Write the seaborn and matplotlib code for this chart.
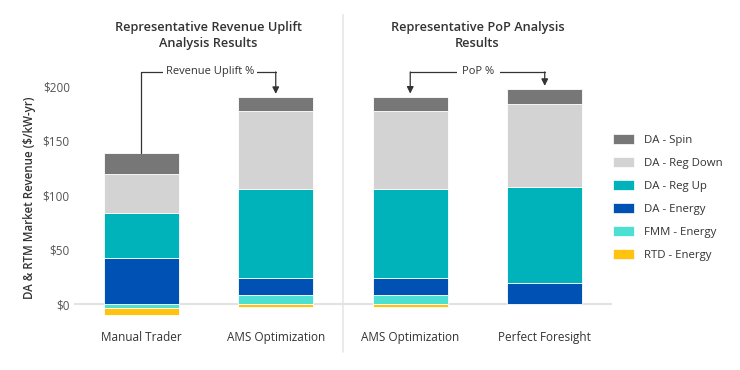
import numpy as np
import pandas as pd
import matplotlib
matplotlib.use("Agg")
import matplotlib.pyplot as plt
import matplotlib.patches as mpatches
import seaborn as sns

# ---- data ----
categories = ["Manual Trader", "AMS Optimization", "AMS Optimization", "Perfect Foresight"]
series_names = ["RTD - Energy", "FMM - Energy", "DA - Energy", "DA - Reg Up", "DA - Reg Down", "DA - Spin"]
rtd_energy = [-6.6, -2.5, -2.5, 0.0]
fmm_energy = [-3.4, 8.6, 8.6, 0.0]
da_energy = [42.3, 15.6, 15.6, 19.0]
da_reg_up = [41.2, 81.3, 81.3, 89.0]
da_reg_down = [36.5, 72.4, 72.4, 75.8]
da_spin = [19.3, 12.9, 12.9, 14.1]
yticks = [0, 50, 100, 150, 200]
ytick_labels = ["$0", "$50", "$100", "$150", "$200"]
titles = ["Representative Revenue Uplift\nAnalysis Results", "Representative PoP Analysis\nResults"]

colors = {
    "DA - Spin": "#777777",
    "DA - Reg Down": "#d3d3d3",
    "DA - Reg Up": "#00b2b9",
    "DA - Energy": "#0051b4",
    "FMM - Energy": "#4ce0d2",
    "RTD - Energy": "#ffc20e",
}

sns.set_theme(style="white")
plt.rcParams["font.family"] = ["Open Sans", "DejaVu Sans"]

fig = plt.figure(figsize=(7.4, 3.7), dpi=100)
ax = fig.add_axes([0.1, 0.1343, 0.727, 0.661])

idx = list(range(len(categories)))
values = {
    "RTD - Energy": rtd_energy,
    "FMM - Energy": fmm_energy,
    "DA - Energy": da_energy,
    "DA - Reg Up": da_reg_up,
    "DA - Reg Down": da_reg_down,
    "DA - Spin": da_spin,
}
# stacking: positives up from 0, negatives down from 0
pos_base = np.zeros(len(categories))
neg_base = np.zeros(len(categories))
order_stack = ["FMM - Energy", "RTD - Energy", "DA - Energy", "DA - Reg Up", "DA - Reg Down", "DA - Spin"]
for name in order_stack:
    v = np.array(values[name], dtype=float)
    bottoms = np.where(v >= 0, pos_base, neg_base)
    df = pd.DataFrame({"x": idx, "y": v})
    sns.barplot(data=df, x="x", y="y", bottom=bottoms, color=colors[name],
                width=0.56, ax=ax, edgecolor="white", linewidth=0.6,
                saturation=1, errorbar=None)
    pos_base = pos_base + np.where(v >= 0, v, 0)
    neg_base = neg_base + np.where(v < 0, v, 0)

totals = pos_base

ax.set_xlim(-0.5, 3.5)
ax.set_ylim(-15, 210)
for s in ax.spines.values():
    s.set_visible(False)
ax.axhline(0, color="#e2e2e2", lw=1.5, zorder=0.5)
ax.set_yticks(yticks)
ax.set_yticklabels(ytick_labels, fontsize=8.5, color="#555555")
ax.set_xticks(idx)
ax.set_xticklabels(categories, fontsize=8.5, color="#333333")
ax.tick_params(axis="y", length=0, pad=3)
ax.tick_params(axis="x", length=0, pad=8)
ax.set_xlabel("")
ax.set_ylabel("DA & RTM Market Revenue ($/kW-yr)", fontsize=8.3, color="#333333",
              fontweight="semibold", labelpad=5)
ax.grid(False)

# separator between the two panels
ax.plot([1.5, 1.5], [-44, 266], color="#e6e6e6", lw=1.2, clip_on=False, zorder=0)

# titles
for i, t in enumerate(titles):
    xc = 0.5 + 2 * i
    ax.text(xc, 247, t, ha="center", va="center", fontsize=9.2, color="#333333",
            fontweight="semibold", linespacing=1.25, clip_on=False)

# connector annotations
line_y = 213.5
lc = "#333333"
ax.plot([0, 0, 1, 1], [totals[0], line_y, line_y, line_y], color=lc, lw=0.9, clip_on=False)
ax.annotate("", xy=(1, totals[1] + 2.5), xytext=(1, line_y),
            arrowprops=dict(arrowstyle="-|>", color=lc, lw=0.9, shrinkA=0, shrinkB=0,
                            mutation_scale=10), annotation_clip=False)
ax.text(0.513, line_y, "Revenue Uplift %", ha="center", va="center", fontsize=8,
        color="#333333", clip_on=False,
        bbox=dict(boxstyle="square,pad=0.25", fc="white", ec="none"))

ax.plot([2, 3], [line_y, line_y], color=lc, lw=0.9, clip_on=False)
for k in (2, 3):
    ax.annotate("", xy=(k, totals[k] + 2.8), xytext=(k, line_y),
                arrowprops=dict(arrowstyle="-|>", color=lc, lw=0.9, shrinkA=0, shrinkB=0,
                                mutation_scale=10), annotation_clip=False)
ax.text(2.506, line_y, "PoP %", ha="center", va="center", fontsize=8,
        color="#333333", clip_on=False,
        bbox=dict(boxstyle="square,pad=0.5", fc="white", ec="none"))

# legend
legend_order = ["DA - Spin", "DA - Reg Down", "DA - Reg Up", "DA - Energy", "FMM - Energy", "RTD - Energy"]
handles = [mpatches.Patch(facecolor=colors[n], edgecolor="white", lw=0.5) for n in legend_order]
fig.legend(handles, legend_order, loc="upper left", bbox_to_anchor=(612.5 / 740, 1 - 134 / 370),
           frameon=False, fontsize=8.2, handlelength=1.9, handleheight=0.95,
           labelspacing=0.98, handletextpad=0.85, borderpad=0, borderaxespad=0,
           labelcolor="#333333")

fig.savefig("out.png", dpi=100)
